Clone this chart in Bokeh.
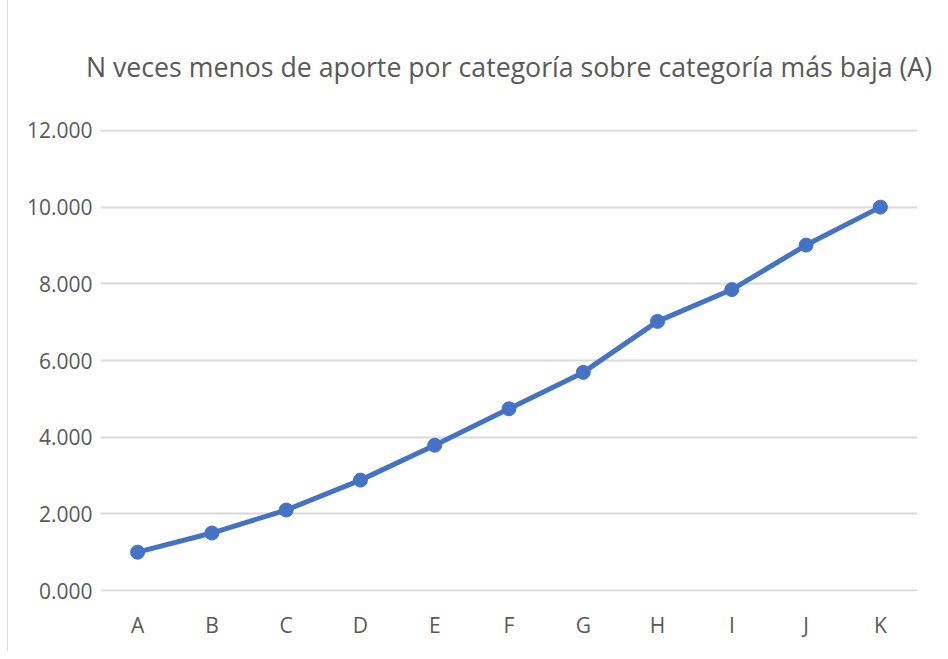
from bokeh.plotting import figure
from bokeh.embed import file_html
from bokeh.resources import INLINE
from bokeh.models import FixedTicker, ColumnDataSource

categories = ["A", "B", "C", "D", "E", "F", "G", "H", "I", "J", "K"]
values = [1.0, 1.5, 2.1, 2.88, 3.79, 4.74, 5.69, 7.02, 7.85, 9.01, 10.0]
y_ticks = [0, 2, 4, 6, 8, 10, 12]
y_tick_labels = ["0.000", "2.000", "4.000", "6.000", "8.000", "10.000", "12.000"]
title_text = "N veces menos de aporte por categoría sobre categoría más baja (A)"

src = ColumnDataSource(dict(cat=categories, val=values))

p = figure(width=932, height=651, x_range=categories, y_range=(-0.025, 12.025),
           output_backend="svg", toolbar_location=None,
           min_border_left=92, min_border_right=23, min_border_top=116, min_border_bottom=60)
p.styles = {"border-left": "1px solid #d9d9d9", "margin-left": "7px"}

p.title.text = title_text
p.title.text_font = "Open Sans"
p.title.text_font_size = "26.7px"
p.title.text_font_style = "normal"
p.title.text_color = "#595959"
p.title.align = "center"
p.title.offset = 22
p.title.standoff = 90

p.line("cat", "val", source=src, line_color="#4472C4", line_width=5)
p.scatter("cat", "val", source=src, size=14, fill_color="#4472C4", line_color="#4472C4")

p.outline_line_color = None
p.background_fill_color = "white"
p.border_fill_color = "white"

p.xgrid.grid_line_color = None
p.ygrid.grid_line_color = "#d9d9d9"
p.ygrid.grid_line_width = 2

p.yaxis.ticker = FixedTicker(ticks=y_ticks)
p.yaxis.major_label_overrides = {t: l for t, l in zip(y_ticks, y_tick_labels)}
for ax in (p.xaxis, p.yaxis):
    ax.axis_line_color = None
    ax.major_tick_line_color = None
    ax.minor_tick_line_color = None
    ax.major_label_text_font = "Open Sans"
    ax.major_label_text_font_size = "21px"
    ax.major_label_text_color = "#595959"
p.yaxis.major_label_standoff = 2
p.xaxis.major_label_standoff = 13

open("out.html", "w").write(file_html(p, INLINE))
